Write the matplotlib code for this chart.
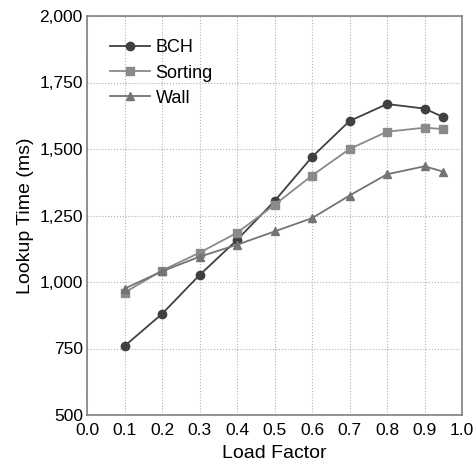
import matplotlib
matplotlib.use("Agg")
import matplotlib.pyplot as plt
from matplotlib.ticker import FuncFormatter

load = [0.1, 0.2, 0.3, 0.4, 0.5, 0.6, 0.7, 0.8, 0.9, 0.95]
bch = [759, 880, 1026, 1158, 1304, 1470, 1605, 1669, 1652, 1620]
sorting = [960, 1043, 1110, 1185, 1290, 1400, 1500, 1565, 1580, 1575]
wall = [975, 1040, 1095, 1140, 1190, 1240, 1325, 1405, 1435, 1415]

plt.rcParams['font.family'] = ['Liberation Sans', 'DejaVu Sans']

fig = plt.figure(figsize=(4.76, 4.66), dpi=100)
ax = fig.add_axes([87 / 476, 51 / 466, 375 / 476, 399 / 466])

ax.plot(load, bch, color='#404040', marker='o', markersize=6, lw=1.3, label='BCH')
ax.plot(load, sorting, color='#8a8a8a', marker='s', markersize=6, lw=1.3, label='Sorting')
ax.plot(load, wall, color='#747474', marker='^', markersize=6, lw=1.3, label='Wall')

ax.set_xlim(0, 1.0)
ax.set_ylim(500, 2000)
ax.set_xticks([i / 10 for i in range(11)])
ax.set_yticks(range(500, 2001, 250))
ax.xaxis.set_major_formatter(FuncFormatter(lambda v, p: f"{v:.1f}"))
ax.yaxis.set_major_formatter(FuncFormatter(lambda v, p: f"{int(v):,}"))
ax.tick_params(labelsize=12.5, length=0)
ax.tick_params(axis='x', pad=6)
ax.tick_params(axis='y', pad=3)
ax.grid(True, ls=':', color='#b0b0b0', lw=0.8)
for s in ax.spines.values():
    s.set_color('#808080')
    s.set_linewidth(1.2)

ax.set_xlabel("Load Factor", fontsize=14, labelpad=5)
ax.set_ylabel("Lookup Time (ms)", fontsize=14, labelpad=4)
ax.legend(loc='upper left', frameon=False, fontsize=13, handlelength=2.2,
          handletextpad=0.3, labelspacing=0.45, borderaxespad=0.9)

fig.savefig("out.png")
